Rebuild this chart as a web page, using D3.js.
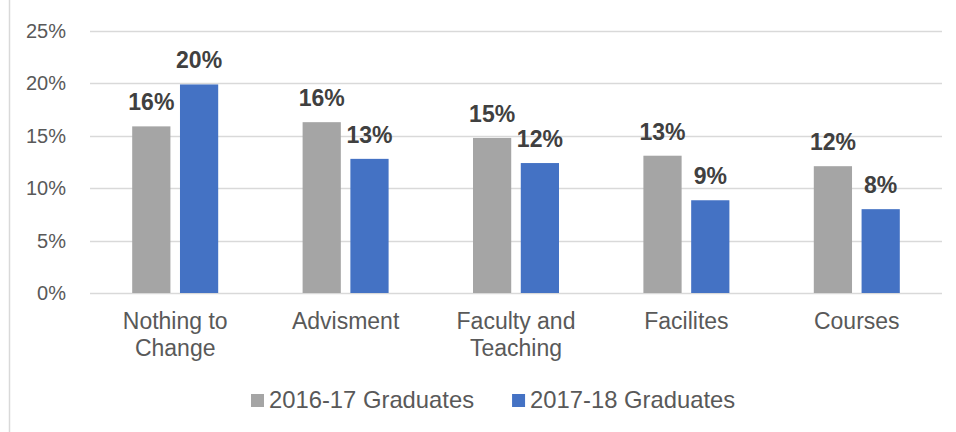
<!DOCTYPE html>
<html>
<head>
<meta charset="utf-8">
<script src="https://cdn.jsdelivr.net/npm/d3@7"></script>
<style>
  body { margin: 0; background: #fff; }
  svg { display: block; font-family: "Liberation Sans", Arial, sans-serif; }
</style>
</head>
<body>
<svg class="chart" width="956" height="432"></svg>
<script>
// chart data
var categories = [["Nothing to", "Change"], ["Advisment"], ["Faculty and", "Teaching"], ["Facilites"], ["Courses"]];
var series = ["2016-17 Graduates", "2017-18 Graduates"];
var grads1617 = [15.9, 16.3, 14.8, 13.1, 12.1];
var grads1718 = [19.9, 12.8, 12.4, 8.85, 8.0];
var valueLabels1617 = ["16%", "16%", "15%", "13%", "12%"];
var valueLabels1718 = ["20%", "13%", "12%", "9%", "8%"];
var yTicks = [0, 5, 10, 15, 20, 25];

var colors = ["#a5a5a5", "#4472c4"];

var svg = d3.select(".chart"),
    margin = { top: 31, right: 14, bottom: 139, left: 90 },
    width = +svg.attr("width") - margin.left - margin.right,
    height = +svg.attr("height") - margin.top - margin.bottom;

// left edge of the chart frame
svg.append("line")
    .attr("x1", 9.5).attr("x2", 9.5)
    .attr("y1", 0).attr("y2", 432)
    .attr("stroke", "#d9d9d9")
    .attr("stroke-width", 1.5);

var keys = categories.map(function(d, i) { return "c" + i; });

var x0 = d3.scaleBand().domain(keys).range([0, width]);
var x1 = d3.scaleBand().domain(series).range([-43, 43]).paddingInner(0.2);
var y = d3.scaleLinear().domain([0, 25]).range([height, 0]);

var g = svg.append("g")
    .attr("transform", "translate(" + margin.left + "," + margin.top + ")");

// gridlines
g.append("g")
    .selectAll("line")
    .data(yTicks)
    .enter().append("line")
    .attr("x1", 0).attr("x2", width)
    .attr("y1", function(d) { return Math.round(y(d)) + 0.5; })
    .attr("y2", function(d) { return Math.round(y(d)) + 0.5; })
    .attr("stroke", "#d9d9d9")
    .attr("stroke-width", 1.3);

// y axis labels
var yAxis = g.append("g")
    .attr("transform", "translate(-24,0)")
    .call(d3.axisLeft(y).tickValues(yTicks).tickSize(0).tickPadding(0)
        .tickFormat(function(d) { return d + "%"; }));
yAxis.select(".domain").remove();
yAxis.selectAll("text")
    .attr("fill", "#595959")
    .attr("font-size", "20px")
    .attr("font-family", "Liberation Sans, Arial, sans-serif");

// bars
var rows = keys.map(function(k, i) {
    return [
        { key: k, s: series[0], v: grads1617[i], label: valueLabels1617[i], c: colors[0] },
        { key: k, s: series[1], v: grads1718[i], label: valueLabels1718[i], c: colors[1] }
    ];
});

var groups = g.selectAll(".cat")
    .data(rows)
    .enter().append("g")
    .attr("class", "cat")
    .attr("transform", function(d) { return "translate(" + (x0(d[0].key) + x0.bandwidth() / 2) + ",0)"; });

groups.selectAll("rect")
    .data(function(d) { return d; })
    .enter().append("rect")
    .attr("x", function(d) { return x1(d.s); })
    .attr("y", function(d) { return y(d.v); })
    .attr("width", x1.bandwidth())
    .attr("height", function(d) { return height - y(d.v); })
    .attr("fill", function(d) { return d.c; });

groups.selectAll("text")
    .data(function(d) { return d; })
    .enter().append("text")
    .attr("x", function(d) { return x1(d.s) + x1.bandwidth() / 2; })
    .attr("y", function(d) { return y(d.v) - 16; })
    .attr("text-anchor", "middle")
    .attr("font-size", "23px")
    .attr("font-weight", "bold")
    .attr("fill", "#404040")
    .text(function(d) { return d.label; });

// category labels
var catLabels = g.append("g")
    .selectAll("text")
    .data(categories)
    .enter().append("text")
    .attr("x", function(d, i) { return x0(keys[i]) + x0.bandwidth() / 2; })
    .attr("y", height + 36)
    .attr("text-anchor", "middle")
    .attr("font-size", "23px")
    .attr("fill", "#595959");

catLabels.selectAll("tspan")
    .data(function(d) { return d; })
    .enter().append("tspan")
    .attr("x", function() { return d3.select(this.parentNode).attr("x"); })
    .attr("dy", function(d, i) { return i === 0 ? 0 : 27; })
    .text(function(d) { return d; });

// legend
var legend = svg.append("g")
    .attr("transform", "translate(251,394)");

var lx = 0;
series.forEach(function(s, i) {
    var item = legend.append("g").attr("transform", "translate(" + lx + ",0)");
    item.append("rect")
        .attr("width", 13)
        .attr("height", 13)
        .attr("fill", colors[i]);
    var t = item.append("text")
        .attr("x", 18)
        .attr("y", 13.5)
        .attr("font-size", "23.8px")
        .attr("fill", "#595959")
        .text(s);
    lx += 18 + t.node().getComputedTextLength() + 38;
});
</script>
</body>
</html>
